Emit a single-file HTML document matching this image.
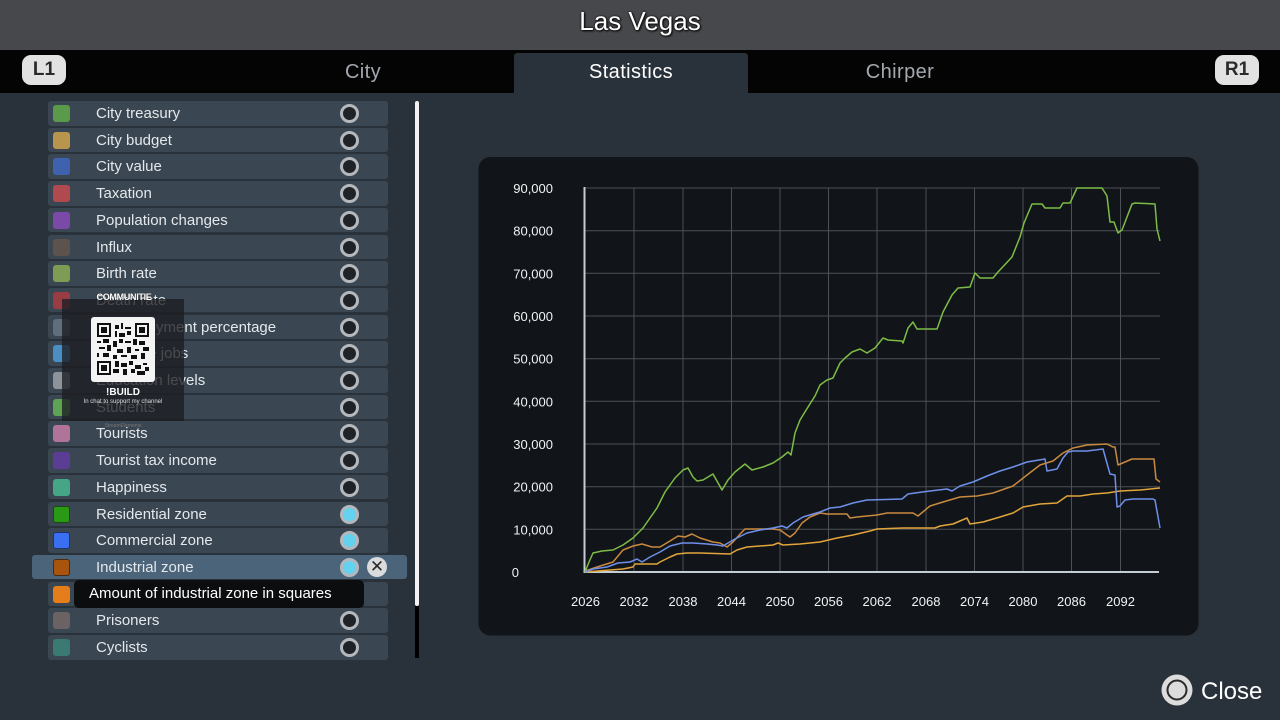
<!DOCTYPE html>
<html><head><meta charset="utf-8">
<style>
*{margin:0;padding:0;box-sizing:border-box}
html,body{width:1280px;height:720px;overflow:hidden;background:#29313a;font-family:"Liberation Sans",sans-serif}
.abs{position:absolute}
#top{left:0;top:0;width:1280px;height:50px;background:#47484c}
#title{left:0;top:4px;width:1280px;text-align:center;color:#fff;font-size:26px;line-height:34px;text-shadow:0 0 2px #000,1px 1px 2px #000}
#tabs{left:0;top:50px;width:1280px;height:43px;background:#040405}
.tab{top:50px;height:43px;line-height:45px;text-align:center;font-size:20px;color:#a3a9af;letter-spacing:0.4px}
#act{left:514px;top:53px;width:234px;height:40px;background:#29313a;border-radius:3px 3px 0 0}
.btn{top:55px;width:44px;height:30px;background:#e2e2e2;border-radius:9px;color:#2a2a2a;font-weight:bold;font-size:19px;line-height:30px;text-align:center;box-shadow:0 1px 2px #000}
.row{left:48px;width:340px;height:24.5px;background:#3a4651;border-radius:3px}
.sq{position:absolute;left:5px;top:4px;width:17px;height:17px;border-radius:3px}
.lb{position:absolute;left:48px;top:0;line-height:25px;font-size:15px;color:#e4e8ec;white-space:nowrap}
.rd{position:absolute;left:292px;top:3px;width:19px;height:19px;border-radius:50%;border:3px solid #b4b8bc;background:#1f2327}
.rd.on{background:#62d2ee}
</style></head><body>
<div class="abs" id="top"></div>
<div class="abs" id="title">Las Vegas</div>
<div class="abs" id="tabs"></div>
<div class="abs" id="act"></div>
<div class="abs tab" style="left:246px;width:234px">City</div>
<div class="abs tab" style="left:514px;width:234px;color:#fff">Statistics</div>
<div class="abs tab" style="left:783px;width:234px">Chirper</div>
<div class="abs btn" style="left:22px">L1</div>
<div class="abs btn" style="left:1215px">R1</div>

<!-- list rows -->
<div class="abs row" style="top:101px"><div class="sq" style="background:#5a9a4a"></div><div class="lb">City treasury</div><div class="rd"></div></div>
<div class="abs row" style="top:127.7px"><div class="sq" style="background:#b8954c"></div><div class="lb">City budget</div><div class="rd"></div></div>
<div class="abs row" style="top:154.4px"><div class="sq" style="background:#3e62ad"></div><div class="lb">City value</div><div class="rd"></div></div>
<div class="abs row" style="top:181.1px"><div class="sq" style="background:#b04a4e"></div><div class="lb">Taxation</div><div class="rd"></div></div>
<div class="abs row" style="top:207.8px"><div class="sq" style="background:#7b4aa8"></div><div class="lb">Population changes</div><div class="rd"></div></div>
<div class="abs row" style="top:234.5px"><div class="sq" style="background:#5d534c"></div><div class="lb">Influx</div><div class="rd"></div></div>
<div class="abs row" style="top:261.2px"><div class="sq" style="background:#7f9c55"></div><div class="lb">Birth rate</div><div class="rd"></div></div>
<div class="abs row" style="top:287.9px"><div class="sq" style="background:#9a3c44"></div><div class="lb">Death rate</div><div class="rd"></div></div>
<div class="abs row" style="top:314.6px"><div class="sq" style="background:#5f6e7b"></div><div class="lb">Unemployment percentage</div><div class="rd"></div></div>
<div class="abs row" style="top:341.3px"><div class="sq" style="background:#4a8fc4"></div><div class="lb">Available jobs</div><div class="rd"></div></div>
<div class="abs row" style="top:368px"><div class="sq" style="background:#8d939a"></div><div class="lb">Education levels</div><div class="rd"></div></div>
<div class="abs row" style="top:394.7px"><div class="sq" style="background:#5ea353"></div><div class="lb">Students</div><div class="rd"></div></div>
<div class="abs row" style="top:421.4px"><div class="sq" style="background:#b0739a"></div><div class="lb">Tourists</div><div class="rd"></div></div>
<div class="abs row" style="top:448.1px"><div class="sq" style="background:#5b3d95"></div><div class="lb">Tourist tax income</div><div class="rd"></div></div>
<div class="abs row" style="top:474.8px"><div class="sq" style="background:#45a585"></div><div class="lb">Happiness</div><div class="rd"></div></div>
<div class="abs row" style="top:501.5px"><div class="sq" style="background:#2a9a16;border:1px solid #1a4a10"></div><div class="lb">Residential zone</div><div class="rd on"></div></div>
<div class="abs row" style="top:528.2px"><div class="sq" style="background:#3b6ff2;border:1px solid #1c3570"></div><div class="lb">Commercial zone</div><div class="rd on"></div></div>
<div class="abs row" style="top:554.9px;left:32px;width:375px;background:#4b6479"><div class="sq" style="left:21px;background:#a8540e;border:1px solid #4a2a10"></div><div class="lb" style="left:64px">Industrial zone</div><div class="rd on" style="left:308px"></div>
<div style="position:absolute;left:335px;top:2px;width:20px;height:20px;border-radius:50%;background:#d9dbdd;color:#2a2a2a;font-size:17px;line-height:20px;text-align:center">&#x2715;</div></div>
<div class="abs row" style="top:581.6px"><div class="sq" style="background:#e47d1a"></div><div class="lb">Office zone</div><div class="rd"></div></div>
<div class="abs row" style="top:608.3px"><div class="sq" style="background:#6a6263"></div><div class="lb">Prisoners</div><div class="rd"></div></div>
<div class="abs row" style="top:635px"><div class="sq" style="background:#3b7a72"></div><div class="lb">Cyclists</div><div class="rd"></div></div>

<!-- tooltip -->
<div class="abs" style="left:74px;top:580px;width:290px;height:28px;background:#0b0d0f;border-radius:5px;color:#fff;font-size:15px;line-height:28px;padding-left:15px;white-space:nowrap">Amount of industrial zone in squares</div>

<!-- scrollbar -->
<div class="abs" style="left:415px;top:101px;width:4px;height:505px;background:#f2f2f2;border-radius:2px"></div>
<div class="abs" style="left:415px;top:606px;width:4px;height:52px;background:#000"></div>

<!-- overlay -->
<div class="abs" style="left:62px;top:299px;width:122px;height:122px;background:rgba(28,30,33,0.78)"></div>
<div class="abs" style="left:94px;top:291px;width:60px;text-align:center;color:#fff;font-size:9px;font-weight:bold;line-height:12px;letter-spacing:-0.3px;text-shadow:0 0 1px #000">COMMUNITIE</div>
<div class="abs" style="left:91px;top:317px;width:64px;height:65px;background:#f4f4f4;border-radius:3px"></div>
<svg class="abs" style="left:97px;top:323px" width="52" height="52" viewBox="0 0 26 26">
<g fill="#111">
<rect x="0" y="0" width="7" height="7"/><rect x="19" y="0" width="7" height="7"/><rect x="0" y="19" width="7" height="7"/>
</g>
<g fill="#f4f4f4"><rect x="1" y="1" width="5" height="5"/><rect x="20" y="1" width="5" height="5"/><rect x="1" y="20" width="5" height="5"/></g>
<g fill="#111"><rect x="2" y="2" width="3" height="3"/><rect x="21" y="2" width="3" height="3"/><rect x="2" y="21" width="3" height="3"/>
<rect x="9" y="1" width="2" height="2"/><rect x="12" y="0" width="1" height="3"/><rect x="14" y="2" width="3" height="1"/><rect x="9" y="4" width="1" height="3"/><rect x="11" y="5" width="3" height="2"/><rect x="15" y="4" width="2" height="2"/>
<rect x="0" y="9" width="2" height="1"/><rect x="3" y="8" width="3" height="2"/><rect x="8" y="9" width="2" height="3"/><rect x="11" y="8" width="2" height="2"/><rect x="14" y="9" width="3" height="1"/><rect x="18" y="8" width="2" height="3"/><rect x="21" y="9" width="3" height="2"/>
<rect x="1" y="12" width="3" height="1"/><rect x="5" y="11" width="2" height="3"/><rect x="10" y="13" width="3" height="2"/><rect x="15" y="12" width="2" height="3"/><rect x="19" y="13" width="2" height="1"/><rect x="23" y="12" width="3" height="2"/>
<rect x="0" y="15" width="1" height="2"/><rect x="3" y="15" width="3" height="2"/><rect x="8" y="16" width="2" height="2"/><rect x="12" y="16" width="3" height="1"/><rect x="17" y="16" width="3" height="2"/><rect x="22" y="15" width="2" height="3"/>
<rect x="9" y="19" width="2" height="3"/><rect x="12" y="20" width="3" height="2"/><rect x="16" y="19" width="2" height="2"/><rect x="19" y="21" width="3" height="2"/><rect x="23" y="20" width="2" height="1"/>
<rect x="8" y="23" width="3" height="2"/><rect x="13" y="23" width="2" height="3"/><rect x="17" y="23" width="2" height="2"/><rect x="20" y="24" width="4" height="2"/><rect x="24" y="22" width="2" height="2"/>
</g></svg>
<div class="abs" style="left:62px;top:386px;width:122px;text-align:center;color:#fff;font-size:10px;font-weight:bold;line-height:13px">!BUILD</div>
<div class="abs" style="left:62px;top:398px;width:122px;text-align:center;color:#ddd;font-size:6px;line-height:8px;white-space:nowrap">In chat to support my channel</div>
<div class="abs" style="left:62px;top:423px;width:122px;text-align:center;color:#777;font-size:5px;line-height:6px">StreamElements</div>

<!-- chart -->
<svg class="abs" style="left:0;top:0" width="1280" height="720" viewBox="0 0 1280 720">
<rect x="478.5" y="157" width="720" height="478.5" rx="12" fill="#111418"/>
<g stroke="#4c5157" stroke-width="1" fill="none">
<line x1="584" y1="188" x2="1160" y2="188"/>
<line x1="584" y1="230.7" x2="1160" y2="230.7"/>
<line x1="584" y1="273.3" x2="1160" y2="273.3"/>
<line x1="584" y1="316" x2="1160" y2="316"/>
<line x1="584" y1="358.7" x2="1160" y2="358.7"/>
<line x1="584" y1="401.3" x2="1160" y2="401.3"/>
<line x1="584" y1="444" x2="1160" y2="444"/>
<line x1="584" y1="486.7" x2="1160" y2="486.7"/>
<line x1="584" y1="529.3" x2="1160" y2="529.3"/>
<line x1="634" y1="188" x2="634" y2="572"/>
<line x1="683" y1="188" x2="683" y2="572"/>
<line x1="731.5" y1="188" x2="731.5" y2="572"/>
<line x1="780" y1="188" x2="780" y2="572"/>
<line x1="828.5" y1="188" x2="828.5" y2="572"/>
<line x1="877" y1="188" x2="877" y2="572"/>
<line x1="926" y1="188" x2="926" y2="572"/>
<line x1="974.5" y1="188" x2="974.5" y2="572"/>
<line x1="1023" y1="188" x2="1023" y2="572"/>
<line x1="1071.5" y1="188" x2="1071.5" y2="572"/>
<line x1="1120.5" y1="188" x2="1120.5" y2="572"/>
</g>
<g stroke="#c4ccd4" stroke-width="2">
<line x1="584.5" y1="187" x2="584.5" y2="573"/>
<line x1="584" y1="572" x2="1159" y2="572"/>
</g>
<g font-family="Liberation Sans, sans-serif" font-size="13" fill="#f0f2f4" text-anchor="end">
<text x="553" y="193">90,000</text>
<text x="553" y="235.7">80,000</text>
<text x="553" y="278.3">70,000</text>
<text x="553" y="321">60,000</text>
<text x="553" y="363.7">50,000</text>
<text x="553" y="406.3">40,000</text>
<text x="553" y="449">30,000</text>
<text x="553" y="491.7">20,000</text>
<text x="553" y="534.3">10,000</text>
<text x="519" y="577">0</text>
</g>
<g font-family="Liberation Sans, sans-serif" font-size="13" fill="#f0f2f4" text-anchor="middle">
<text x="585.5" y="606">2026</text>
<text x="634" y="606">2032</text>
<text x="683" y="606">2038</text>
<text x="731.5" y="606">2044</text>
<text x="780" y="606">2050</text>
<text x="828.5" y="606">2056</text>
<text x="877" y="606">2062</text>
<text x="926" y="606">2068</text>
<text x="974.5" y="606">2074</text>
<text x="1023" y="606">2080</text>
<text x="1071.5" y="606">2086</text>
<text x="1120.5" y="606">2092</text>
</g>
<g fill="none" stroke-width="1.5" stroke-linejoin="round">
<polyline stroke="#e2a53c" points="585,572 610,570 623,569 633,567 635,564 657,564 660,562 670,557 677,554 687,553 700,553 730,554 737,550 747,547 760,546 773,545 778,543 783,545 800,544 820,542 837,538 853,535 870,531 877,529 903,528 935,528 940,526 953,524 967,518 970,524 983,522 1000,517 1013,513 1023,507 1040,504 1057,503 1067,496 1080,496 1093,494 1107,493 1120,491 1140,490 1160,488"/>
<polyline stroke="#c98a40" points="585,571 597,567 613,562 623,550 633,546 642,544 652,547 660,547 670,541 678,536 685,537 692,534 700,538 713,542 720,543 727,547 733,542 742,532 745,529 760,529 773,529 780,530 787,535 790,537 795,533 802,523 810,517 820,513 827,514 847,514 850,518 857,517 877,515 887,513 913,513 918,516 930,506 943,502 960,497 977,496 993,493 1013,486 1027,475 1040,465 1053,461 1063,453 1073,448 1087,445 1107,444 1113,447 1115,447 1118,465 1132,459 1154,459 1156,479 1160,482"/>
<polyline stroke="#6f90ea" points="585,572 593,569 607,567 618,563 630,562 637,559 642,562 650,557 660,552 670,546 682,543 693,543 707,544 717,545 723,546 728,543 735,539 747,533 760,530 773,528 782,526 787,528 793,523 803,517 813,514 820,512 830,508 840,507 853,503 867,500 902,499 908,494 915,493 930,491 947,489 952,491 960,486 973,482 987,476 1000,471 1013,467 1027,462 1045,459 1047,471 1057,469 1063,458 1068,452 1073,451 1087,451 1103,449 1110,474 1115,475 1117,507 1120,506 1125,500 1133,499 1153,499 1155,500 1160,528"/>
<polyline stroke="#7dbd46" points="585,572 589,562 593,553 602,551 613,550 623,545 633,538 643,528 657,508 665,492 675,478 683,470 688,468 693,477 697,481 703,480 713,474 722,490 728,480 735,472 745,464 752,470 763,467 773,463 782,457 788,452 791,455 795,433 800,420 808,407 815,396 820,385 827,380 833,378 840,363 845,358 852,352 860,349 867,353 875,348 883,338 888,340 902,341 903,343 908,328 913,322 917,329 937,329 943,312 952,295 958,288 970,287 975,273 980,278 993,278 998,272 1012,257 1020,237 1024,223 1032,204 1042,204 1045,208 1060,208 1063,203 1070,203 1077,188 1102,188 1107,196 1110,222 1114,222 1118,233 1122,230 1132,204 1135,203 1155,204 1157,229 1160,241"/>
</g>
<!-- close button -->
<circle cx="1177" cy="690" r="15.5" fill="#dcdcdc"/>
<circle cx="1177" cy="690" r="9.5" fill="none" stroke="#2a2a2a" stroke-width="2"/>
<text x="1201" y="699" font-family="Liberation Sans, sans-serif" font-size="24" fill="#fff">Close</text>
</svg>
</body></html>
